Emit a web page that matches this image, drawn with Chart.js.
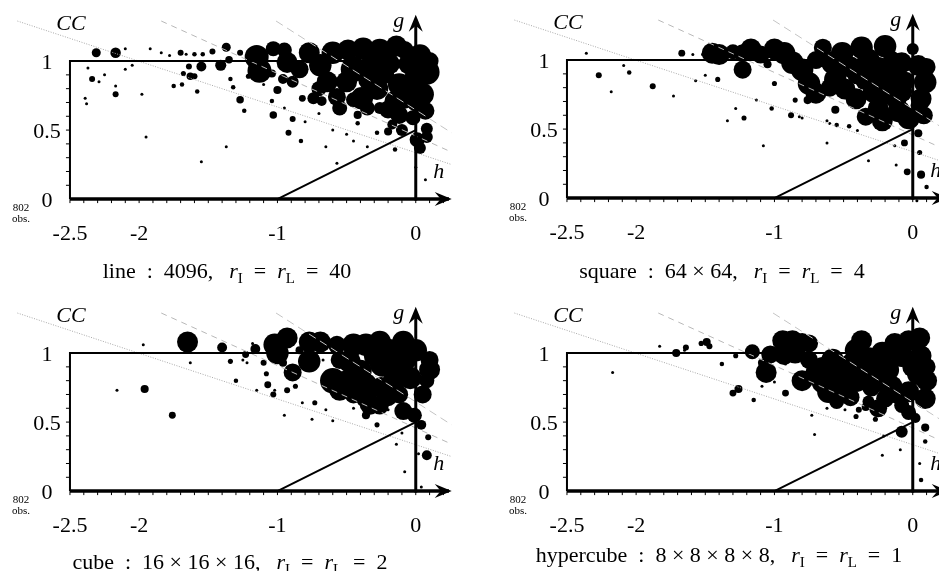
<!DOCTYPE html>
<html>
<head>
<meta charset="utf-8">
<script src="https://cdn.jsdelivr.net/npm/chart.js@4.4.0/dist/chart.umd.min.js"></script>
<style>
html, body { margin: 0; padding: 0; background: #fff; overflow: hidden; width: 939px; height: 571px; position: relative; }
canvas { position: absolute; }
</style>
</head>
<body>
<canvas id="c1" width="470" height="290" style="left:0px;top:0px"></canvas>
<canvas id="c2" width="470" height="290" style="left:497px;top:-1px"></canvas>
<canvas id="c3" width="470" height="290" style="left:0px;top:292px"></canvas>
<canvas id="c4" width="470" height="290" style="left:497px;top:292px"></canvas>
<script>
// tick labels
const xTicks = [-2.5, -2, -1, 0];
const yTicks = [0, 0.5, 1];

// captions
const shapes = ['line\u2002:\u20024096,', 'square\u2002:\u200264 × 64,', 'cube\u2002:\u200216 × 16 × 16,', 'hypercube\u2002:\u20028 × 8 × 8 × 8,'];
const radii = ['40', '4', '2', '1'];
const obsCount = '802';

// gray guide lines (data units): start x, start y, end x, end y
const guideStart = [[-2.88, 1.29], [-1.84, 1.29], [-1.01, 1.29]];
const guideEnd = [[0.26, 0.25], [0.26, 0.34], [0.26, 0.48]];

// observations [h, CC, bubble size]
const linePts = [
  [-2.31,1.06,3],[-2.17,1.06,3.5],[-2.10,1.09,1],[-2.34,0.87,2],[-2.17,0.76,2],[-2.37,0.95,1],[-2.38,0.69,1],
  [-2.39,0.73,1],[-2.25,0.90,1],[-2.29,0.85,1],[-2.10,0.94,1],[-2.05,0.97,1],[-2.17,0.82,1],[-1.98,0.76,1],
  [-1.95,0.45,1],[-1.92,1.09,1],[-1.84,1.06,1],[-1.78,1.04,1],[-1.70,1.06,2],[-1.66,1.05,1],[-1.60,1.05,1.5],
  [-1.54,1.05,1.5],[-1.47,1.07,2],[-1.55,0.96,3.3],[-1.64,0.96,2],[-1.68,0.91,1.7],[-1.63,0.89,2.5],[-1.60,0.89,2],
  [-1.69,0.83,1.5],[-1.75,0.82,1.5],[-1.58,0.78,1.5],[-1.55,0.27,1],[-1.41,0.97,3.7],[-1.37,1.10,3],[-1.35,1.01,2.5],
  [-1.27,1.06,2],[-1.34,0.87,1.5],[-1.32,0.81,1.5],[-1.27,0.72,2.5],[-1.24,0.64,1.5],[-1.21,0.89,1.7],[-1.37,0.38,1],
  [-1.15,1.03,8],[-1.13,0.93,8],[-1.04,0.91,2.7],[-0.96,0.87,3.3],[-1.03,1.09,5],[-0.95,1.08,5],[-0.93,0.99,7],
  [-0.89,0.85,4],[-1.00,0.79,2.7],[-1.04,0.71,1.5],[-1.03,0.61,2.5],[-0.89,0.58,2],[-0.92,0.48,2],[-0.82,0.73,2.3],
  [-0.74,0.73,4],[-0.68,0.71,3.3],[-0.84,0.94,6],[-0.77,1.06,7],[-0.69,0.97,7.5],[-0.64,0.85,7],[-0.57,0.74,6],
  [-0.55,0.66,5],[-0.60,1.06,7.5],[-0.49,1.08,7],[-0.45,0.94,8.5],[-0.38,1.09,7.5],[-0.33,0.94,8.5],[-0.39,0.73,7.5],
  [-0.42,0.61,2.7],[-0.28,0.80,7.5],[-0.26,1.08,7.5],[-0.19,0.98,7],[-0.14,1.11,7],[-0.12,0.83,7.5],[-0.15,0.71,7],
  [-0.12,0.61,6],[-0.17,0.54,3.3],[-0.20,0.49,2.7],[0.03,1.04,7.5],[0.08,0.92,8.5],[0.05,0.76,7.5],[0.07,0.64,6],
  [-0.01,0.87,7],[0.08,0.51,4],[0.01,0.43,5],[0.03,0.37,4],[-0.02,0.59,5],[-0.15,0.36,1.5],[0.00,0.23,1],
  [0.07,0.14,1],[-0.57,0.26,1],[-0.50,0.47,1],[-0.28,0.48,1.5],[-0.26,0.66,4],[-0.05,0.98,7],[-0.08,0.72,6],
  [-0.30,1.02,6],[-0.22,0.90,6],[0.00,0.70,6],[-1.10,0.83,1],[-0.95,0.66,1],[-0.80,0.56,1],[-0.70,0.62,1],
  [-0.60,0.50,1],[-0.45,0.42,1],[-0.35,0.38,1],[-0.65,0.38,1],[-0.83,0.42,1.5],[-0.42,0.55,1.5],
  [-0.50,0.85,7],[-0.20,0.65,6],[-0.35,0.66,5],[0.10,1.00,6],[-0.08,1.08,6],[-0.45,0.72,5],[-0.10,0.50,4],[0.08,0.45,4],
  [-0.70,0.80,5],[-0.35,0.86,6],[-0.05,0.80,6]
];
const squarePts = [
  [-2.27,0.89,2],[-2.18,0.77,1],[-2.05,0.91,1.5],[-1.88,0.81,2],[-1.73,0.74,1],[-2.09,0.96,1],[-2.36,1.05,1],
  [-1.67,1.05,2.3],[-1.59,1.04,1],[-1.52,1.04,1],[-1.45,1.05,7],[-1.40,1.04,7],[-1.47,1.02,3],[-1.41,0.86,1.7],
  [-1.50,0.89,1],[-1.57,0.85,1],[-1.23,1.05,6],[-1.17,1.08,7],[-1.10,1.04,6],[-1.23,0.93,6],[-1.05,0.97,2.7],
  [-1.00,1.08,7],[-0.93,1.05,7.5],[-0.87,0.98,7.5],[-0.80,0.93,7.5],[-0.75,0.83,7.5],[-0.70,0.76,7],[-0.76,0.71,2.7],
  [-0.65,1.09,6],[-0.58,0.98,7.5],[-0.51,1.05,7.5],[-0.56,0.86,7.5],[-0.49,0.79,7],[-0.41,0.72,7],[-0.56,0.64,2.7],
  [-0.37,1.09,7.5],[-0.32,1.00,7.5],[-0.25,0.93,8.5],[-0.20,1.10,7.5],[-0.15,0.86,8.5],[-0.28,0.77,7.5],[-0.25,0.65,7],
  [-0.34,0.59,6],[-0.22,0.56,7],[-0.10,0.63,7.5],[-0.03,0.58,7.5],[0.00,1.08,4],[0.04,0.96,7],[0.09,0.84,7.5],
  [0.06,0.72,7],[-0.08,0.77,7],[-0.08,0.98,7],[0.02,0.67,3.3],[0.04,0.47,2.7],[-0.06,0.40,2.3],[-0.04,0.19,2.3],
  [0.06,0.17,2.7],[0.05,0.33,1.7],[0.10,0.08,1.5],[0.03,-0.02,1],[-0.88,0.60,2],[-0.85,0.71,1.7],[-1.00,0.83,1.7],
  [-1.02,0.65,1.5],[-1.13,0.71,1],[-1.22,0.58,1.7],[-1.34,0.56,1],[-0.82,0.59,1],[-0.80,0.58,1],[-0.62,0.56,1],
  [-0.60,0.54,1],[-0.55,0.53,1.5],[-0.46,0.52,1.5],[-0.40,0.49,1],[-0.32,0.27,1],[-0.12,0.24,1],[-0.13,0.38,1],
  [-0.62,0.40,1],[-1.08,0.38,1],[-1.28,0.65,1],
  [-0.45,0.95,7],[-0.12,0.72,7],[0.08,0.60,6],[-0.35,0.85,6],[-1.30,1.06,5],[-0.70,1.00,6],
  [-0.40,0.90,7],[-0.20,0.75,7],[-0.60,0.80,6],[-0.05,0.85,6],[-0.15,1.00,6],[0.10,0.95,6]
];
const cubePts = [
  [-1.65,1.08,7],[-1.40,1.04,3.3],[-1.34,0.94,1.7],[-1.25,0.95,1],[-1.22,0.93,1],[-1.23,0.99,2.3],[-1.18,1.07,1],
  [-1.16,1.03,3.3],[-1.10,0.93,2],[-1.05,0.99,2.3],[-1.02,1.06,7.5],[-0.93,1.11,7],[-1.00,1.00,7.5],[-0.96,0.93,2.7],
  [-0.89,0.86,6],[-0.84,1.02,2.7],[-0.77,1.08,7],[-0.69,1.08,7],[-0.77,0.94,7.5],[-1.08,0.85,1.7],[-1.07,0.77,2.3],
  [-1.03,0.70,2],[-0.93,0.73,2],[-0.87,0.76,1.7],[-1.02,0.73,1],[-0.73,0.64,1.7],[-0.65,0.59,1],[-0.67,0.95,1],
  [-0.60,0.80,8.5],[-0.51,0.79,7.5],[-0.55,0.73,7],[-0.57,1.06,6],[-0.45,1.06,7.5],[-0.48,0.94,7.5],[-0.40,0.87,7.5],
  [-0.36,0.77,7.5],[-0.36,0.68,7],[-0.33,0.63,7],[-0.26,0.62,6],[-0.36,0.55,2.7],[-0.28,0.48,1.7],[-0.36,1.06,7.5],
  [-0.26,1.08,7.5],[-0.19,1.02,7.5],[-0.09,1.08,7.5],[-0.24,0.92,8.5],[-0.14,0.92,8.5],[-0.07,0.96,7.5],[-0.16,0.79,7.5],
  [-0.04,0.82,7.5],[0.00,1.02,7.5],[0.10,0.88,7],[0.08,0.80,5],[-0.09,0.58,6],[-0.01,0.55,5],[0.04,0.48,3.3],
  [0.09,0.39,2],[0.08,0.26,3.3],[0.02,0.27,1],[-0.08,0.14,1],[-0.14,0.34,1],[-0.20,0.59,1],[-0.60,0.51,1],
  [-2.16,0.73,1],[-1.96,0.74,2.7],[-1.76,0.55,2.3],[-1.63,0.93,1],[-1.97,1.06,1],[-1.69,1.03,1],[-1.30,0.80,1.5],
  [-1.15,0.73,1],[-0.82,0.64,1],[-0.95,0.55,1],[-0.75,0.52,1],[-0.45,0.60,1],[-0.10,0.42,1],[0.04,0.03,1],
  [-0.30,0.98,7],[-0.12,0.70,6],[0.10,0.95,6],[-0.45,0.70,6],[-0.20,0.68,6],
  [-0.25,0.75,7],[-0.55,0.95,6],[0.05,0.70,6]
];
const hyperPts = [
  [-1.71,1.00,2.7],[-1.64,1.04,2],[-1.53,1.07,1.7],[-1.49,1.08,2.7],[-1.47,1.05,2],[-1.65,1.02,1],[-1.83,1.05,1],
  [-2.17,0.86,1],[-1.38,0.92,1.5],[-1.28,0.98,1.7],[-1.30,0.71,2.3],[-1.26,0.74,2.7],[-1.15,0.66,1.5],[-1.16,1.01,5],
  [-1.09,0.93,2.7],[-1.06,0.86,7],[-1.03,0.99,6],[-0.94,1.09,7],[-0.87,1.09,7],[-0.80,1.08,6],[-0.75,1.07,6],
  [-0.93,0.99,7],[-0.85,1.00,7],[-0.92,0.92,1],[-0.80,0.80,7],[-0.77,0.91,1],[-0.92,0.71,2.3],[-0.70,0.86,7],
  [-0.65,0.79,7.5],[-0.61,0.72,7.5],[-0.65,0.89,7.5],[-0.58,0.95,7.5],[-0.51,0.88,8.5],[-0.49,0.74,7.5],[-0.41,1.02,7.5],
  [-0.41,0.81,8.5],[-0.37,1.09,7],[-0.32,0.95,8.5],[-0.27,0.83,7.5],[-0.22,1.00,7.5],[-0.18,0.88,7.5],[-0.13,1.07,7],
  [-0.08,0.98,7.5],[-0.03,1.09,7],[0.05,1.11,7],[0.06,0.98,7],[0.04,0.85,7.5],[0.09,0.67,7],[-0.03,0.72,7],
  [-0.20,0.67,6],[-0.25,0.60,6],[-0.32,0.65,4],[-0.08,0.62,5],[-0.03,0.57,5],[-0.08,0.43,4],[0.02,0.53,3.3],
  [0.09,0.46,2.7],[0.09,0.36,1.5],[0.05,0.20,1],[0.06,0.08,1.5],[-0.27,0.52,1.7],[-0.41,0.54,1.7],[-0.49,0.59,1],
  [-0.39,0.59,2],[-0.34,0.61,2.7],[-0.62,0.60,1],[-0.73,0.55,1],[-0.21,0.40,1],[-0.22,0.26,1],[-0.09,0.30,1],
  [-0.71,0.41,1],[-1.00,0.79,1],[-1.09,0.76,1],
  [-0.45,0.92,7],[-0.15,0.76,7],[0.10,0.80,7],[-0.55,0.65,5],[0.00,0.90,7],[-0.30,0.75,6],[0.10,0.90,6],
  [-0.55,0.82,7],[-0.35,0.88,7],[-0.20,0.78,7],[-0.45,0.68,6],[-0.12,0.70,6],[-0.75,0.95,6]
];

const panels = [
  { id: 'c1', pts: linePts, cap: 0, capX: 227, capY: 278 },
  { id: 'c2', pts: squarePts, cap: 1, capX: 225, capY: 279 },
  { id: 'c3', pts: cubePts, cap: 2, capX: 230, capY: 277 },
  { id: 'c4', pts: hyperPts, cap: 3, capX: 222, capY: 270 }
];

const sizeScale = 1.5; // bubble size value -> pixel radius

const UP = '22px "Liberation Serif"';
const IT = 'italic 22px "Liberation Serif"';
const SUB = '15px "Liberation Serif"';

function arrow(ctx, tx, ty, dx, dy) {
  // stealth-like arrowhead pointing along (dx, dy)
  const nx = -dy, ny = dx;
  ctx.beginPath();
  ctx.moveTo(tx, ty);
  ctx.lineTo(tx - dx * 17 + nx * 7, ty - dy * 17 + ny * 7);
  ctx.lineTo(tx - dx * 11, ty - dy * 11);
  ctx.lineTo(tx - dx * 17 - nx * 7, ty - dy * 17 - ny * 7);
  ctx.closePath();
  ctx.fill();
}

function drawRuns(ctx, runs, cx, base) {
  let w = 0;
  runs.forEach(r => { ctx.font = r.f; r.w = ctx.measureText(r.t).width; w += r.w + (r.gap || 0); });
  let xx = cx - w / 2;
  runs.forEach(r => { ctx.font = r.f; ctx.fillText(r.t, xx, base + (r.dy || 0)); xx += r.w + (r.gap || 0); });
}

const decor = {
  id: 'decor',
  afterDatasetsDraw(chart, args, opts) {
    const ctx = chart.ctx;
    const x = chart.scales.x, y = chart.scales.y;
    const px = v => x.getPixelForValue(v), py = v => y.getPixelForValue(v);
    ctx.save();
    ctx.strokeStyle = '#000';
    ctx.fillStyle = '#000';
    ctx.lineCap = 'butt';

    // box and diagonal
    ctx.lineWidth = 2;
    ctx.beginPath();
    ctx.moveTo(px(-2.5), py(0)); ctx.lineTo(px(-2.5), py(1)); ctx.lineTo(px(0), py(1));
    ctx.stroke();
    ctx.beginPath();
    ctx.moveTo(px(-1), py(0)); ctx.lineTo(px(0), py(0.5));
    ctx.stroke();

    // minor ticks
    ctx.lineWidth = 1;
    ctx.beginPath();
    for (let i = 1; i < 10; i++) {
      ctx.moveTo(px(-2.5) - 4, py(i / 10)); ctx.lineTo(px(-2.5), py(i / 10));
    }
    for (let i = -25; i <= 2; i++) {
      ctx.moveTo(px(i / 10), py(0)); ctx.lineTo(px(i / 10), py(0) + 4);
    }
    ctx.stroke();

    // h axis and g axis
    ctx.lineWidth = 3.5;
    ctx.beginPath();
    ctx.moveTo(px(-2.5), py(0)); ctx.lineTo(px(0.24), py(0));
    ctx.stroke();
    arrow(ctx, px(0.26), py(0), 1, 0);
    ctx.lineWidth = 3;
    ctx.beginPath();
    ctx.moveTo(px(0), py(0) + 1.5); ctx.lineTo(px(0), py(1.3));
    ctx.stroke();
    arrow(ctx, px(0), py(1.336), 0, -1);

    // tick labels
    ctx.font = UP;
    ctx.textAlign = 'center';
    ctx.textBaseline = 'alphabetic';
    xTicks.forEach(v => ctx.fillText(String(v), px(v), py(0) + 41));
    yTicks.forEach(v => ctx.fillText(String(v), px(-2.5) - 23, py(v) + 8));

    // axis names
    ctx.font = IT;
    ctx.fillText('CC', px(-2.5) + 1, py(0) - 169);
    ctx.fillText('g', px(0) - 17, py(0) - 172);
    ctx.fillText('h', px(0) + 23, py(0) - 21);

    ctx.font = '11px "Liberation Serif"';
    ctx.fillText(obsCount, px(-2.5) - 49, py(0) + 12);
    ctx.fillText('obs.', px(-2.5) - 49, py(0) + 23);

    // caption
    ctx.textAlign = 'left';
    drawRuns(ctx, [
      { t: shapes[opts.cap], f: UP, gap: 16 },
      { t: 'r', f: IT },
      { t: 'I', f: SUB, dy: 5 },
      { t: '\u2002=\u2002', f: UP },
      { t: 'r', f: IT },
      { t: 'L', f: SUB, dy: 5 },
      { t: '\u2002=\u2002' + radii[opts.cap], f: UP }
    ], opts.capX, opts.capY);
    ctx.restore();
  }
};

const guideStyles = [
  { color: '#a8a8a8', dash: [1, 1.5] },
  { color: '#b8b8b8', dash: [6, 5] },
  { color: '#c4c4c4', dash: [8, 5] }
];

panels.forEach(p => {
  const datasets = [];
  guideStart.forEach((s, i) => {
    datasets.push({
      type: 'line',
      data: [{ x: s[0], y: s[1] }, { x: guideEnd[i][0], y: guideEnd[i][1] }],
      borderColor: guideStyles[i].color,
      borderDash: guideStyles[i].dash,
      borderWidth: 1,
      pointRadius: 0,
      fill: false,
      order: 1
    });
  });
  datasets.push({
    type: 'bubble',
    data: p.pts.map(d => ({ x: d[0], y: d[1], r: d[2] * sizeScale })),
    backgroundColor: '#000',
    borderWidth: 0,
    hoverRadius: 0,
    clip: false,
    order: 2
  });

  new Chart(document.getElementById(p.id).getContext('2d'), {
    type: 'bubble',
    data: { datasets: datasets },
    options: {
      responsive: false,
      animation: false,
      events: [],
      layout: { padding: { left: 14.64, right: 12.48, top: 10, bottom: 84 } },
      plugins: {
        legend: { display: false },
        tooltip: { enabled: false },
        decor: { cap: p.cap, capX: p.capX, capY: p.capY }
      },
      scales: {
        x: { type: 'linear', min: -2.9, max: 0.3, display: false },
        y: { type: 'linear', min: -0.05, max: 1.35, display: false }
      }
    },
    plugins: [decor]
  });
});
</script>
</body>
</html>
